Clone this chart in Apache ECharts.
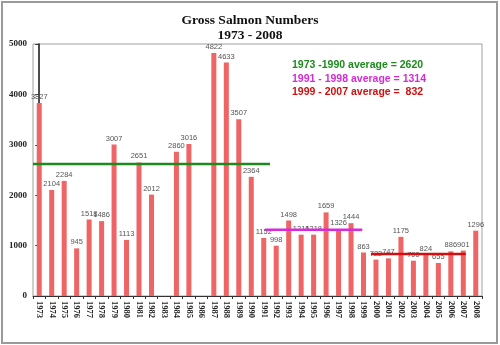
<!DOCTYPE html>
<html>
<head>
<meta charset="utf-8">
<script src="https://cdn.jsdelivr.net/npm/echarts@6/dist/echarts.min.js"></script>
<style>
  html, body { margin: 0; padding: 0; background: #fff; }
  #chart { width: 500px; height: 345px; }
</style>
</head>
<body>
<div id="chart"></div>
<script>
// Annual salmon counts, 1973-2008 (no count recorded for 1983 and 1986)
const years = ['1973','1974','1975','1976','1977','1978','1979','1980','1981','1982',
  '1983','1984','1985','1986','1987','1988','1989','1990','1991','1992','1993','1994',
  '1995','1996','1997','1998','1999','2000','2001','2002','2003','2004','2005','2006',
  '2007','2008'];
const counts = [3827, 2104, 2284, 945, 1518, 1486, 3007, 1113, 2651, 2012,
  null, 2860, 3016, null, 4822, 4633, 3507, 2364, 1152, 998, 1498, 1216,
  1218, 1659, 1326, 1444, 863, 722, 747, 1175, 700, 824, 655, 886,
  901, 1296];

// Period averages: [start position, end position, average]
const avg1 = [-0.5, 18.5, 2620];
const avg2 = [18.1, 25.9, 1314];
const avg3 = [26.6, 34.2, 832];
const avgLabels = ['1973 -1990 average = 2620', '1991 - 1998 average = 1314', '1999 - 2007 average =  832'];
const avgColors = ['#1e8a1e', '#d62bd6', '#d01010'];

const yTicks = { min: 0, max: 5000, interval: 1000 };

const chart = echarts.init(document.getElementById('chart'));

function avgLine(a, color) {
  return {
    type: 'line',
    xAxisIndex: 1,
    data: [[a[0], a[2]], [a[1], a[2]]],
    symbol: 'none',
    lineStyle: { color: color, width: 2.5 },
    silent: true,
    z: 5
  };
}

chart.setOption({
  animation: false,
  backgroundColor: '#fff',
  title: {
    text: 'Gross Salmon Numbers\n1973 - 2008',
    left: 'center',
    top: 8,
    textStyle: {
      fontFamily: 'Liberation Serif',
      fontWeight: 'bold',
      fontSize: 13.5,
      lineHeight: 15,
      color: '#111'
    }
  },
  graphic: [
    {
      type: 'rect',
      shape: { x: 2, y: 2, width: 495, height: 341 },
      style: { fill: 'none', stroke: '#9a9a9a', lineWidth: 2 },
      silent: true
    },
    {
      type: 'group',
      left: 292,
      top: 60,
      children: avgLabels.map((t, i) => ({
        type: 'text',
        x: 0,
        y: i * 13.5,
        style: {
          text: t,
          fill: avgColors[i],
          font: 'bold 10.5px "Liberation Sans"'
        }
      }))
    }
  ],
  grid: {
    left: 33,
    right: 18,
    top: 44,
    bottom: 49,
    show: true,
    borderColor: '#a0a0a0',
    borderWidth: 1
  },
  xAxis: [
    {
      type: 'category',
      data: years,
      axisLine: { lineStyle: { color: '#333', width: 1 } },
      axisTick: { show: true, lineStyle: { color: '#333' }, length: 3 },
      axisLabel: {
        rotate: -90,
        interval: 0,
        margin: 5,
        fontFamily: 'Liberation Serif',
        fontWeight: 'bold',
        fontSize: 8.5,
        color: '#222'
      }
    },
    {
      type: 'value',
      min: -0.5,
      max: 35.5,
      show: false
    }
  ],
  yAxis: {
    type: 'value',
    min: yTicks.min,
    max: yTicks.max,
    interval: yTicks.interval,
    splitLine: { show: false },
    axisLine: { show: true, lineStyle: { color: '#111', width: 1.5 } },
    axisTick: { show: true, length: 4, lineStyle: { color: '#333' } },
    axisLabel: {
      margin: 6,
      formatter: v => String(v),
      fontFamily: 'Liberation Serif',
      fontWeight: 'bold',
      fontSize: 9,
      color: '#222'
    }
  },
  series: [
    {
      type: 'bar',
      data: counts,
      barWidth: 5,
      itemStyle: { color: '#ef6464' },
      label: {
        show: true,
        position: 'top',
        distance: 2,
        fontFamily: 'Liberation Sans',
        fontSize: 7.5,
        color: '#555'
      },
      z: 2
    },
    avgLine(avg1, avgColors[0]),
    avgLine(avg2, avgColors[1]),
    avgLine(avg3, avgColors[2])
  ]
});
</script>
</body>
</html>
